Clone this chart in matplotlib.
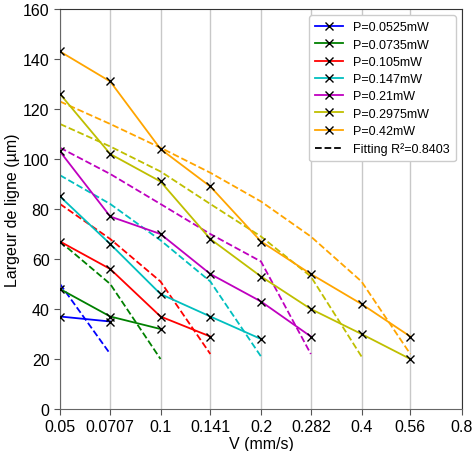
import matplotlib.pyplot as plt
import numpy as np

plt.rcParams["font.family"] = ["Liberation Sans", "DejaVu Sans"]

# speeds (mm/s)
v_ticks = [0.05, 0.0707, 0.1, 0.141, 0.2, 0.282, 0.4, 0.56, 0.8]
v_labels = ["0.05", "0.0707", "0.1", "0.141", "0.2", "0.282", "0.4", "0.56", "0.8"]

powers = ["0.0525", "0.0735", "0.105", "0.147", "0.21", "0.2975", "0.42"]
colors = ["blue", "green", "red", "c", "m", "y", "orange"]

# measured line widths (um), one list per power, starting at V=0.05
w_0525 = [37, 35]
w_0735 = [48, 37, 32]
w_105 = [67, 56, 37, 29]
w_147 = [85, 66, 46, 37, 28]
w_21 = [103, 77, 70, 54, 43, 29]
w_2975 = [126, 102, 91, 68, 53, 40, 30, 20]
w_42 = [143, 131, 104, 89, 67, 54, 42, 29]

# fitted values
f_0525 = [50, 22]
f_0735 = [67, 50, 20]
f_105 = [82, 68, 51, 22]
f_147 = [93.5, 82, 67.5, 51, 21]
f_21 = [104.5, 94, 82, 70, 59, 22]
f_2975 = [114, 105, 95, 82, 69, 53, 21]
f_42 = [123, 114, 104.5, 94.5, 83, 69, 51, 22]

measured = [w_0525, w_0735, w_105, w_147, w_21, w_2975, w_42]
fitted = [f_0525, f_0735, f_105, f_147, f_21, f_2975, f_42]

fig = plt.figure(figsize=(4.74, 4.52), dpi=100)
ax = fig.add_axes([0.1266, 0.0929, 0.8481, 0.885])

for p, c, w, f in zip(powers, colors, measured, fitted):
    ax.plot(v_ticks[:len(w)], w, color=c, lw=1.3, marker="x", ms=5.5,
            mec="black", mew=1.0, label=f"P={p}mW", zorder=3)
    ax.plot(v_ticks[:len(f)], f, color=c, lw=1.3, ls="--", zorder=2)

ax.plot([], [], color="black", ls="--", lw=1.3, label="Fitting R²=0.8403")

ax.set_xscale("log")
ax.set_xlim(0.05, 0.8)
ax.set_xticks(v_ticks)
ax.set_xticklabels(v_labels)
ax.xaxis.set_minor_locator(plt.NullLocator())
ax.set_ylim(0, 160)
ax.set_yticks(np.arange(0, 161, 20))
ax.tick_params(labelsize=11.5, length=4, color="#555555")
ax.grid(axis="x", color="#c8c8c8", lw=1)

for s in ["left", "bottom"]:
    ax.spines[s].set_color("#666666")
for s in ["top", "right"]:
    ax.spines[s].set_color("#333333")

ax.set_xlabel("V (mm/s)", fontsize=11.5, labelpad=1)
ax.set_ylabel("Largeur de ligne (µm)", fontsize=11.5, labelpad=2)

ax.legend(loc="upper right", fontsize=9, handlelength=2.2, labelspacing=0.42,
          borderpad=0.5, framealpha=1)

plt.savefig("out.png", dpi=100)
